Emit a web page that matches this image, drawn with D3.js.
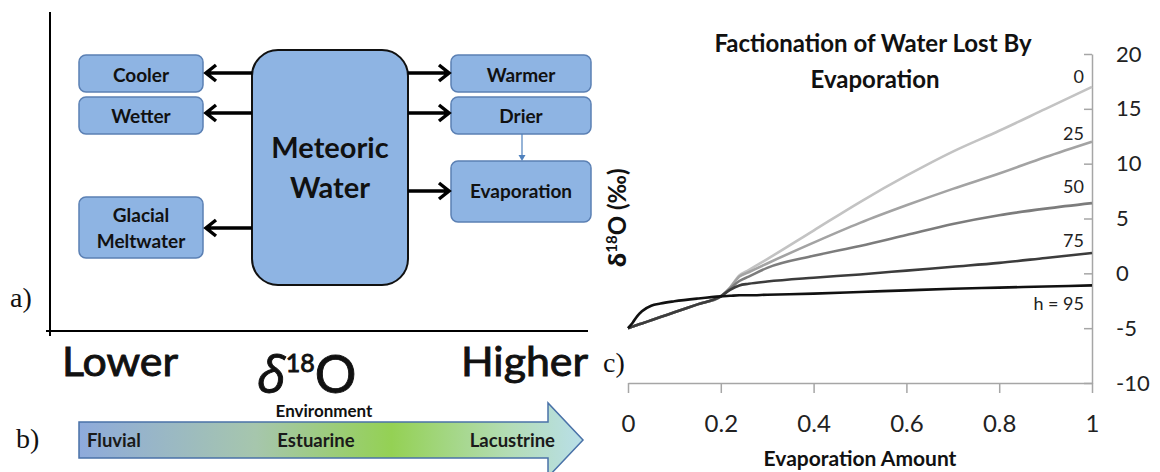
<!DOCTYPE html>
<html>
<head>
<meta charset="utf-8">
<script src="https://cdn.jsdelivr.net/npm/d3@7"></script>
<style>
  html, body { margin: 0; padding: 0; background: #fff; }
  svg { display: block; font-family: Lato, 'Open Sans', sans-serif; }
</style>
</head>
<body>
<svg id="fig" width="1160" height="472"></svg>
<script>
// panel c) values
const evapAmount = [0, 0.01, 0.02, 0.03, 0.05, 0.07, 0.1, 0.15, 0.2, 0.22, 0.24, 0.26, 0.3, 0.4, 0.5, 0.6, 0.7, 0.8, 0.9, 1];
const humidityLabels = ['0', '25', '50', '75', 'h = 95'];
const d18O_h0  = [-5, -4.86, -4.71, -4.57, -4.28, -3.99, -3.55, -2.83, -2.1, -1.3, -0.2, 0.3, 1.3, 3.9, 6.5, 8.9, 11.1, 13.0, 15.0, 17.0];
const d18O_h25 = [-5, -4.86, -4.71, -4.57, -4.28, -3.99, -3.55, -2.83, -2.1, -1.3, -0.3, 0.1, 0.9, 2.8, 4.6, 6.2, 7.7, 9.1, 10.6, 12.0];
const d18O_h50 = [-5, -4.86, -4.71, -4.57, -4.28, -3.99, -3.55, -2.83, -2.1, -1.4, -0.7, -0.3, 0.5, 1.6, 2.5, 3.5, 4.5, 5.3, 5.9, 6.4];
const d18O_h75 = [-5, -4.86, -4.71, -4.57, -4.28, -3.99, -3.55, -2.83, -2.1, -1.5, -1.1, -0.95, -0.75, -0.4, -0.1, 0.25, 0.6, 0.95, 1.4, 1.85];
const d18O_h95 = [-5, -4.5, -3.9, -3.45, -2.95, -2.75, -2.55, -2.3, -2.1, -2.05, -2.0, -2.0, -1.95, -1.85, -1.7, -1.55, -1.4, -1.3, -1.2, -1.1];
const xTicks = [0, 0.2, 0.4, 0.6, 0.8, 1];
const yTicks = [-10, -5, 0, 5, 10, 15, 20];

// panel a) / b) labels
const leftBoxes = ['Cooler', 'Wetter', 'Glacial\nMeltwater'];
const rightBoxes = ['Warmer', 'Drier', 'Evaporation'];
const environments = ['Fluvial', 'Estuarine', 'Lacustrine'];

const svg = d3.select('#fig');

// ---------- a) diagram ----------
const boxFill = '#8eb4e3';
const boxStroke = '#5b80b4';
const a = svg.append('g');

a.append('line').attr('x1', 50).attr('y1', 12).attr('x2', 50).attr('y2', 336)
  .attr('stroke', '#000').attr('stroke-width', 2);
a.append('line').attr('x1', 46).attr('y1', 331).attr('x2', 588).attr('y2', 331)
  .attr('stroke', '#000').attr('stroke-width', 2);

const leftPos = [[55, 92, 82], [97, 134, 123], [197, 258, 222]];
const rightPos = [[55, 92, 82], [97, 134, 123], [161, 222, 198]];
const arrowY = { left: [73, 113, 228], right: [73, 113, 191] };

function box(x0, x1, y0, y1, label, base) {
  a.append('rect').attr('x', x0).attr('y', y0).attr('width', x1 - x0).attr('height', y1 - y0)
    .attr('rx', 7).attr('fill', boxFill).attr('stroke', boxStroke).attr('stroke-width', 1.5);
  label.split('\n').forEach((t, i) => {
    a.append('text').attr('x', (x0 + x1) / 2).attr('y', base + i * 26)
      .attr('text-anchor', 'middle').attr('font-weight', 700).attr('font-size', 19)
      .attr('fill', '#111').text(t);
  });
}

leftBoxes.forEach((lab, i) => box(79, 203, leftPos[i][0], leftPos[i][1], lab, leftPos[i][2]));
rightBoxes.forEach((lab, i) => box(451, 591, rightPos[i][0], rightPos[i][1], lab, rightPos[i][2]));

a.append('rect').attr('x', 252).attr('y', 50).attr('width', 156).attr('height', 235)
  .attr('rx', 26).attr('fill', boxFill).attr('stroke', '#111').attr('stroke-width', 2);
a.append('text').attr('x', 330).attr('y', 158).attr('text-anchor', 'middle')
  .attr('font-weight', 700).attr('font-size', 29).attr('fill', '#111').text('Meteoric');
a.append('text').attr('x', 330).attr('y', 198).attr('text-anchor', 'middle')
  .attr('font-weight', 700).attr('font-size', 29).attr('fill', '#111').text('Water');

function arrow(xFrom, xTip, y) {
  const dir = xTip < xFrom ? 1 : -1;
  a.append('path')
    .attr('d', `M${xFrom},${y}H${xTip + dir}M${xTip + dir * 10},${y - 8}L${xTip},${y}L${xTip + dir * 10},${y + 8}`)
    .attr('fill', 'none').attr('stroke', '#000').attr('stroke-width', 3.5)
    .attr('stroke-linejoin', 'miter');
}
arrowY.left.forEach(y => arrow(252, 206, y));
arrowY.right.forEach(y => arrow(408, 449, y));

a.append('line').attr('x1', 522).attr('y1', 134).attr('x2', 522).attr('y2', 156)
  .attr('stroke', '#4f81bd').attr('stroke-width', 1.2);
a.append('path').attr('d', 'M518.5,155L525.5,155L522,161Z').attr('fill', '#4f81bd');

svg.append('text').attr('x', 10).attr('y', 307).attr('font-family', "'Liberation Serif', serif")
  .attr('font-size', 28).attr('fill', '#111').text('a)');

// ---------- b) ----------
const b = svg.append('g');
b.append('text').attr('x', 62).attr('y', 376).attr('font-size', 40)
  .attr('stroke', '#111').attr('stroke-width', 0.9)
  .attr('textLength', 116).attr('lengthAdjust', 'spacingAndGlyphs').attr('fill', '#111').text('Lower');
b.append('text').attr('x', 461).attr('y', 376).attr('font-size', 40)
  .attr('stroke', '#111').attr('stroke-width', 0.9)
  .attr('textLength', 127).attr('lengthAdjust', 'spacingAndGlyphs').attr('fill', '#111').text('Higher');
const dl = b.append('text').attr('x', 257).attr('y', 393)
  .attr('fill', '#111').attr('font-size', 52).attr('stroke', '#111').attr('stroke-width', 0.9);
dl.append('tspan').attr('font-family', "'Open Sans', sans-serif").attr('font-style', 'italic').text('δ');
dl.append('tspan').attr('font-size', 25).attr('dy', -21).text('18');
dl.append('tspan').attr('dy', 21).text('O');

const defs = svg.append('defs');
const grad = defs.append('linearGradient').attr('id', 'envGrad')
  .attr('gradientUnits', 'userSpaceOnUse').attr('x1', 79).attr('x2', 583).attr('y1', 0).attr('y2', 0);
[[0, '#8eaadb'], [0.35, '#a6c6ad'], [0.62, '#94d154'], [0.85, '#b3dcb4'], [1, '#b9dfe9']]
  .forEach(([o, c]) => grad.append('stop').attr('offset', o).attr('stop-color', c));

b.append('path').attr('d', 'M79,422H548V403L583,440L548,477V458H79Z')
  .attr('fill', 'url(#envGrad)').attr('stroke', '#4a72a8').attr('stroke-width', 1.5);
b.append('text').attr('x', 324).attr('y', 417).attr('text-anchor', 'middle')
  .attr('font-weight', 700).attr('font-size', 17).attr('fill', '#111').text('Environment');
const envX = [87, 316, 555];
const envAnchor = ['start', 'middle', 'end'];
environments.forEach((e, i) => {
  b.append('text').attr('x', envX[i]).attr('y', 447).attr('text-anchor', envAnchor[i])
    .attr('font-weight', 700).attr('font-size', 18.5).attr('fill', '#1a1a1a').text(e);
});
svg.append('text').attr('x', 16).attr('y', 448).attr('font-family', "'Liberation Serif', serif")
  .attr('font-size', 28).attr('fill', '#111').text('b)');

// ---------- c) chart ----------
const x = d3.scaleLinear().domain([0, 1]).range([628, 1092]);
const y = d3.scaleLinear().domain([-10, 20]).range([383, 54]);
const c = svg.append('g');

const xAxis = c.append('g').attr('transform', `translate(0,${y(-10)})`)
  .call(d3.axisBottom(x).tickValues(xTicks).tickSize(10).tickSizeOuter(0).tickPadding(22).tickFormat(d => String(d)));
const yAxis = c.append('g').attr('transform', `translate(${x(1)},0)`)
  .call(d3.axisRight(y).tickValues(yTicks).tickSizeInner(-8).tickSizeOuter(0).tickPadding(24).tickFormat(d => String(d)));
[xAxis, yAxis].forEach(g => {
  g.select('.domain').attr('stroke', '#a6a6a6').attr('stroke-width', 1.5);
  g.selectAll('.tick line').attr('stroke', '#a6a6a6').attr('stroke-width', 1.5);
  g.selectAll('.tick text').attr('fill', '#222').attr('font-family', 'Lato, sans-serif');
});
xAxis.selectAll('.tick text').attr('font-size', 24);
yAxis.selectAll('.tick text').attr('font-size', 22);

const series = [d18O_h0, d18O_h25, d18O_h50, d18O_h75, d18O_h95];
const lineColors = ['#c3c3c3', '#a3a3a3', '#7c7c7c', '#3c3c3c', '#111111'];
const labelDy = [-4, -2, -10, -6, 25];
const line = d3.line().x((d, i) => x(evapAmount[i])).y(d => y(d)).curve(d3.curveMonotoneX);

series.forEach((s, k) => {
  c.append('path').attr('d', line(s)).attr('fill', 'none')
    .attr('stroke', lineColors[k]).attr('stroke-width', 2.6);
});
series.forEach((s, k) => {
  c.append('text').attr('x', x(1) - 8).attr('y', y(s[s.length - 1]) + labelDy[k])
    .attr('text-anchor', 'end').attr('font-size', 18).attr('fill', '#222').text(humidityLabels[k]);
});

c.append('text').attr('x', 873).attr('y', 52).attr('text-anchor', 'middle')
  .attr('font-weight', 700).attr('font-size', 24).attr('fill', '#111').text('Factionation of Water Lost By');
c.append('text').attr('x', 875).attr('y', 88).attr('text-anchor', 'middle')
  .attr('font-weight', 700).attr('font-size', 24).attr('fill', '#111').text('Evaporation');
c.append('text').attr('x', 860).attr('y', 466).attr('text-anchor', 'middle')
  .attr('font-weight', 700).attr('font-size', 21).attr('fill', '#111').text('Evaporation Amount');

const yt = c.append('text').attr('transform', 'translate(626,218) rotate(-90)')
  .attr('text-anchor', 'middle').attr('font-weight', 700).attr('font-size', 24).attr('fill', '#111');
yt.append('tspan').attr('font-family', "'Open Sans', sans-serif").text('δ');
yt.append('tspan').attr('font-size', 15).attr('dy', -9).text('18');
yt.append('tspan').attr('dy', 9).text('O (‰)');

svg.append('text').attr('x', 603).attr('y', 372).attr('font-family', "'Liberation Serif', serif")
  .attr('font-size', 28).attr('fill', '#111').text('c)');
</script>
</body>
</html>
